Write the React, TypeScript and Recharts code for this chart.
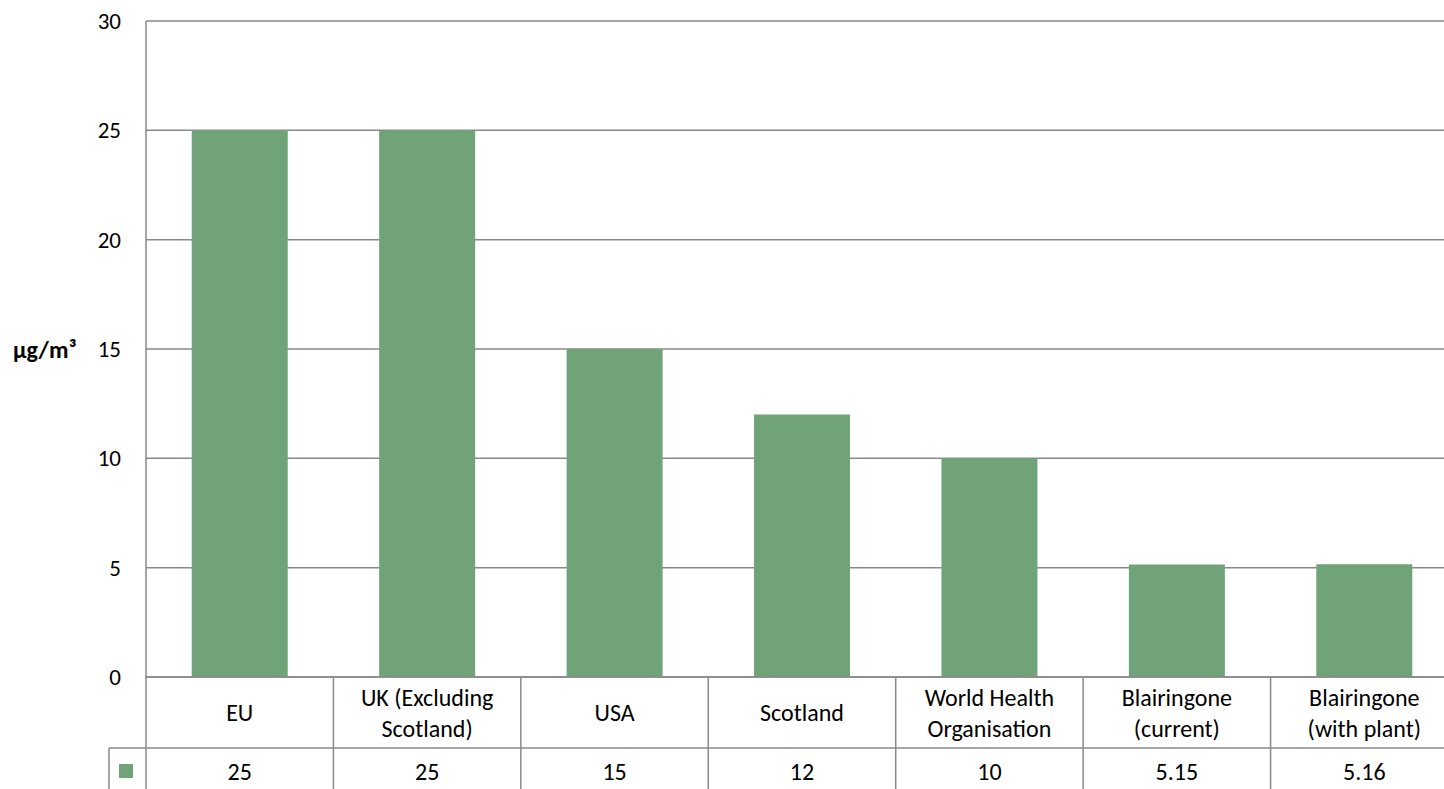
import { Bar, BarChart, CartesianGrid, XAxis, YAxis } from 'recharts';

const CATEGORIES = [
    'EU',
    'UK (Excluding\nScotland)',
    'USA',
    'Scotland',
    'World Health\nOrganisation',
    'Blairingone\n(current)',
    'Blairingone\n(with plant)',
];
const VALUES = [25, 25, 15, 12, 10, 5.15, 5.16];
const Y_TICKS = [0, 5, 10, 15, 20, 25, 30];
const Y_LABEL = 'µg/m³';

const data = CATEGORIES.map((name, i) => ({ name, value: VALUES[i] }));

const W = 1462;
const H = 810;
const MARGIN = { top: 21, right: 4, left: 0, bottom: 0 };
const YAXIS_W = 146;
const XAXIS_H = 133;
const ROW1 = 71;
const FONT = 'Carlito, Lato, sans-serif';
const GRID = '#898989';
const GREEN = '#71a378';

const band = (W - MARGIN.left - MARGIN.right - YAXIS_W) / CATEGORIES.length;

function TableTick(props: any) {
    const { x, y, payload } = props;
    const idx = CATEGORIES.indexOf(payload.value);
    const lines: string[] = String(payload.value).split('\n');
    const left = x - band / 2;
    const right = x + band / 2;
    const rowMid = y + ROW1 / 2;
    return (
        <g>
            {idx === 0 && (
                <g>
                    <line x1={left} y1={y} x2={left} y2={y + XAXIS_H} stroke={GRID} strokeWidth={1.5} />
                    <line x1={left - 37} y1={y + ROW1} x2={left} y2={y + ROW1} stroke={GRID} strokeWidth={1.5} />
                    <line x1={left - 37} y1={y + ROW1} x2={left - 37} y2={y + XAXIS_H} stroke={GRID} strokeWidth={1.5} />
                    <rect x={left - 27} y={y + 87} width={14} height={14} fill={GREEN} />
                </g>
            )}
            <line x1={left} y1={y + ROW1} x2={right} y2={y + ROW1} stroke={GRID} strokeWidth={1.5} />
            <line x1={right} y1={y} x2={right} y2={y + XAXIS_H} stroke={GRID} strokeWidth={1.5} />
            {lines.map((ln, i) => (
                <text
                    key={i}
                    x={x}
                    y={rowMid + (i - (lines.length - 1) / 2) * 31}
                    textAnchor="middle"
                    dominantBaseline="central"
                    fontFamily={FONT}
                    fontSize={24}
                    fill="#000"
                >
                    {ln}
                </text>
            ))}
            <text
                x={x}
                y={y + 94}
                textAnchor="middle"
                dominantBaseline="central"
                fontFamily={FONT}
                fontSize={24}
                fill="#000"
            >
                {String(VALUES[idx])}
            </text>
        </g>
    );
}

export default function App() {
    return (
        <div style={{ position: 'fixed', left: 0, top: 0, width: 1444, height: 789, overflow: 'hidden', background: '#fff' }}>
            <BarChart width={W} height={H} data={data} margin={MARGIN} barCategoryGap="24.4%">
                <CartesianGrid horizontal vertical={false} stroke={GRID} strokeWidth={1.5} />
                <XAxis
                    dataKey="name"
                    height={XAXIS_H}
                    interval={0}
                    tickSize={0}
                    tickMargin={0}
                    tickLine={false}
                    axisLine={{ stroke: GRID, strokeWidth: 1.5 }}
                    tick={<TableTick />}
                />
                <YAxis
                    width={YAXIS_W}
                    domain={[0, 30]}
                    ticks={Y_TICKS}
                    interval={0}
                    tickSize={0}
                    tickMargin={25}
                    tickLine={false}
                    axisLine={{ stroke: GRID, strokeWidth: 1.5 }}
                    tick={{ fill: '#000', fontSize: 23, fontFamily: FONT }}
                    label={{
                        value: Y_LABEL,
                        position: 'insideLeft',
                        offset: 13,
                        fill: '#000',
                        fontSize: 24,
                        fontWeight: 'bold',
                        fontFamily: FONT,
                    }}
                />
                <Bar dataKey="value" fill={GREEN} isAnimationActive={false} />
            </BarChart>
        </div>
    );
}
